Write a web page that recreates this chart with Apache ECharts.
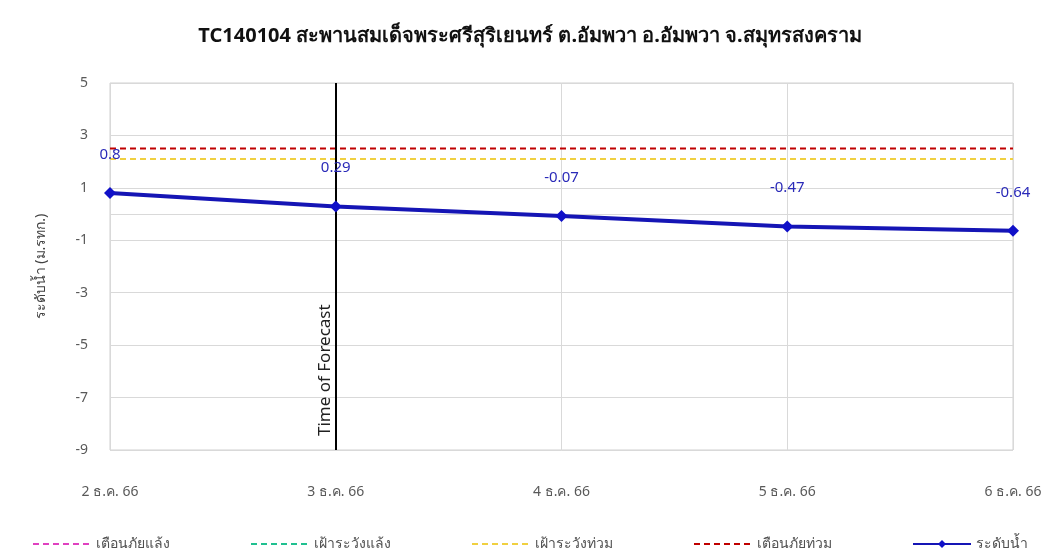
<!DOCTYPE html>
<html>
<head>
<meta charset="utf-8">
<script src="https://cdn.jsdelivr.net/npm/echarts@6/dist/echarts.min.js"></script>
<style>html,body{margin:0;padding:0;background:#fff}#c{width:1060px;height:559px}</style>
</head>
<body>
<div id="c"></div>
<script>
const titleText = 'TC140104 สะพานสมเด็จพระศรีสุริเยนทร์ ต.อัมพวา อ.อัมพวา จ.สมุทรสงคราม';
const categories = ['2 ธ.ค. 66', '3 ธ.ค. 66', '4 ธ.ค. 66', '5 ธ.ค. 66', '6 ธ.ค. 66'];
const waterLevel = [0.8, 0.29, -0.07, -0.47, -0.64];
const droughtWarning = [null, null, null, null, null];
const droughtWatch = [null, null, null, null, null];
const floodWatch = [2.1, 2.1, 2.1, 2.1, 2.1];
const floodWarning = [2.5, 2.5, 2.5, 2.5, 2.5];
const yTicks = [5, 3, 1, -1, -3, -5, -7, -9];
const zeroLine = 0;
const forecastCategory = '3 ธ.ค. 66';
const yName = 'ระดับน้ำ (ม.รทก.)';
const forecastLabel = 'Time of Forecast';
const names = ['เตือนภัยแล้ง', 'เฝ้าระวังแล้ง', 'เฝ้าระวังท่วม', 'เตือนภัยท่วม', 'ระดับน้ำ'];

const FONT = "Tahoma, 'Noto Sans', 'DejaVu Sans', sans-serif";
const chart = echarts.init(document.getElementById('c'), null, {renderer: 'canvas'});

function dashed(name, data, color) {
  return {
    name: name, type: 'line', data: data, symbol: 'none', silent: true, z: 3,
    lineStyle: {color: color, width: 2, type: [6, 4]},
    itemStyle: {color: color}
  };
}

const gridLines = yTicks.concat([zeroLine]).map(v => ({yAxis: v}));
const legendData = names.map((n, i) => i < 4 ? {name: n, itemStyle: {opacity: 0}} : {name: n});

chart.setOption({
  backgroundColor: '#fff',
  animation: false,
  textStyle: {fontFamily: FONT},
  title: {
    text: titleText, left: 'center', top: 21,
    textStyle: {fontFamily: FONT, fontSize: 20, fontWeight: 'bold', color: '#111'}
  },
  grid: {left: 110, right: 47, top: 83, bottom: 109, show: true, borderColor: '#d0d0d0', borderWidth: 1},
  legend: {
    bottom: 3, left: 'center', itemWidth: 58, itemHeight: 10, itemGap: 80,
    textStyle: {fontFamily: FONT, fontSize: 14, color: '#505050'},
    data: legendData
  },
  xAxis: {
    type: 'category', data: categories, boundaryGap: false,
    axisLine: {show: false, onZero: false},
    axisTick: {show: false},
    splitLine: {show: true, lineStyle: {color: '#d9d9d9', width: 1}},
    axisLabel: {fontSize: 14, color: '#595959', margin: 35, fontFamily: FONT}
  },
  yAxis: {
    type: 'value', min: -9, max: 5,
    name: yName, nameLocation: 'middle', nameGap: 62, nameRotate: 90,
    nameTextStyle: {fontSize: 14, color: '#404040', fontFamily: FONT},
    axisLine: {show: false}, axisTick: {show: false},
    splitLine: {show: false},
    axisLabel: {customValues: yTicks, fontSize: 14, color: '#595959', margin: 22, fontFamily: FONT}
  },
  series: [
    {
      type: 'line', data: [], silent: true, z: 1,
      markLine: {
        silent: true, symbol: 'none', animation: false, z: 1,
        data: gridLines,
        lineStyle: {color: '#d9d9d9', width: 1, type: 'solid'},
        label: {show: false}
      }
    },
    dashed(names[0], droughtWarning, '#e040c0'),
    dashed(names[1], droughtWatch, '#20c090'),
    dashed(names[2], floodWatch, '#f0d040'),
    dashed(names[3], floodWarning, '#c00000'),
    {
      type: 'line', data: [], silent: true, z: 4,
      markLine: {
        silent: true, symbol: 'none', animation: false, z: 4,
        data: [{xAxis: forecastCategory}],
        lineStyle: {color: '#000', width: 2, type: 'solid'},
        label: {show: true, formatter: forecastLabel, position: 'insideStartTop', distance: [14, 2], fontSize: 17, color: '#202020', fontFamily: FONT}
      }
    },
    {
      name: names[4], type: 'line', data: waterLevel, z: 5,
      symbol: 'diamond', symbolSize: 12,
      lineStyle: {color: '#1515b5', width: 4},
      itemStyle: {color: '#1010c8'},
      label: {show: true, position: 'top', distance: 25, fontSize: 15, color: '#2a2ab8', fontFamily: FONT}
    }
  ]
});
</script>
</body>
</html>
